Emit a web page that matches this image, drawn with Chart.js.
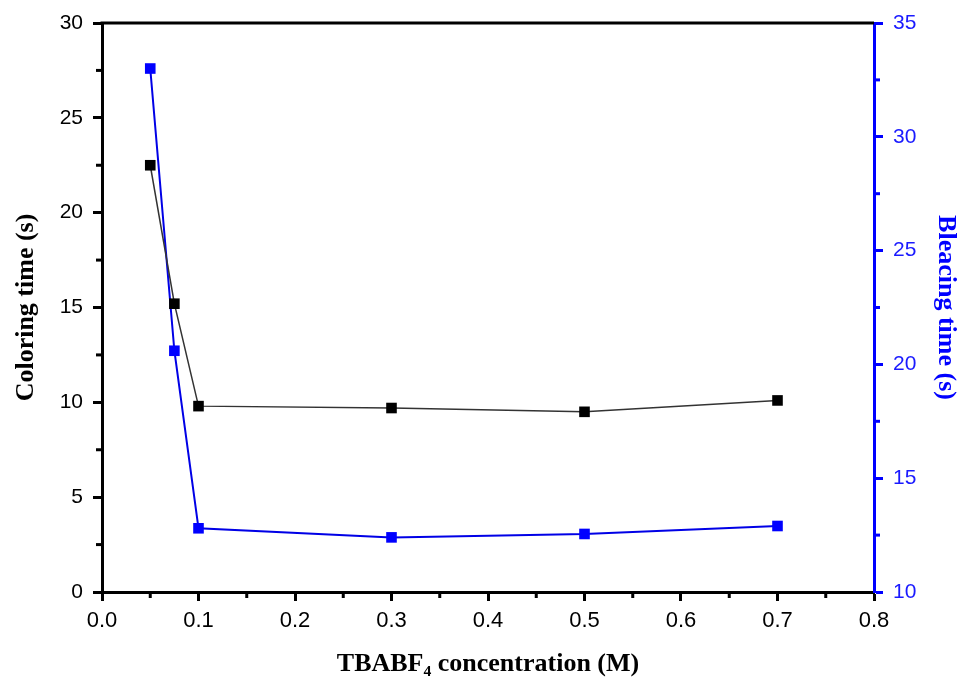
<!DOCTYPE html>
<html>
<head>
<meta charset="utf-8">
<script src="https://cdn.jsdelivr.net/npm/chart.js@4.4.1/dist/chart.umd.min.js"></script>
<style>
  html, body { margin: 0; padding: 0; background: #fff; }
  #wrap { width: 962px; height: 688px; }
</style>
</head>
<body>
<div id="wrap"><canvas id="chart" width="962" height="688"></canvas></div>
<script>
// values
let concentration = [0.05, 0.075, 0.1, 0.3, 0.5, 0.7];
let coloringTime = [22.5, 15.2, 9.8, 9.7, 9.5, 10.1];
let bleachingTime = [33.0, 20.6, 12.8, 12.4, 12.55, 12.9];

let blue = '#0000ff';

function toPoints(xs, ys) {
    return xs.map(function (x, i) { return { x: x, y: ys[i] }; });
}

// shorter minor ticks half way between the major ones, plus the top frame line
let frame = {
    id: 'frame',
    afterDraw: function (chart) {
        let ctx = chart.ctx;
        let area = chart.chartArea;
        ctx.save();
        ctx.lineWidth = 3;
        ctx.strokeStyle = '#000';
        ctx.beginPath();
        ctx.moveTo(area.left - 1.5, area.top);
        ctx.lineTo(area.right, area.top);
        ctx.stroke();

        let minor = function (scale, step, color) {
            ctx.strokeStyle = color;
            for (let v = scale.min + step / 2; v < scale.max; v += step) {
                let p = scale.getPixelForValue(v);
                ctx.beginPath();
                if (scale.axis === 'x') {
                    ctx.moveTo(p, area.bottom);
                    ctx.lineTo(p, area.bottom + 6);
                } else if (scale.position === 'left') {
                    ctx.moveTo(area.left, p);
                    ctx.lineTo(area.left - 6, p);
                } else {
                    ctx.moveTo(area.right, p);
                    ctx.lineTo(area.right + 6, p);
                }
                ctx.stroke();
            }
        };
        minor(chart.scales.x, 0.1, '#000');
        minor(chart.scales.y, 5, '#000');
        minor(chart.scales.y1, 5, blue);
        ctx.restore();
    }
};

let chart = new Chart(document.getElementById('chart'), {
    type: 'scatter',
    data: {
        datasets: [{
            label: 'Coloring time',
            data: toPoints(concentration, coloringTime),
            showLine: true,
            borderColor: '#333',
            borderWidth: 1.5,
            backgroundColor: '#000',
            pointStyle: 'rect',
            pointRadius: 7.5,
            pointBorderWidth: 0,
            yAxisID: 'y'
        }, {
            label: 'Bleacing time',
            data: toPoints(concentration, bleachingTime),
            showLine: true,
            borderColor: '#0000e6',
            borderWidth: 2,
            backgroundColor: blue,
            pointStyle: 'rect',
            pointRadius: 7.5,
            pointBorderWidth: 0,
            yAxisID: 'y1'
        }]
    },
    plugins: [frame],
    options: {
        responsive: false,
        animation: false,
        layout: { padding: { top: 23, left: 0, right: 0, bottom: 0 } },
        plugins: {
            legend: { display: false },
            tooltip: { enabled: false }
        },
        scales: {
            x: {
                type: 'linear',
                min: 0,
                max: 0.8,
                afterFit: function (s) { s.height = 96; },
                border: { color: '#000', width: 3 },
                grid: { drawOnChartArea: false, color: '#000', tickLength: 9, tickWidth: 3 },
                ticks: {
                    stepSize: 0.1,
                    color: '#000',
                    padding: 7,
                    font: { family: '"Liberation Sans", Arial', size: 22 },
                    callback: function (v) { return v.toFixed(1); }
                },
                title: {
                    display: true,
                    text: 'TBABF\u2084 concentration (M)',
                    color: '#000',
                    padding: { top: 0, bottom: 8 },
                    font: { family: '"Liberation Serif", "Times New Roman", serif', size: 26, weight: 'bold' }
                }
            },
            y: {
                position: 'left',
                min: 0,
                max: 30,
                afterFit: function (s) { s.width = 102; },
                border: { color: '#000', width: 3 },
                grid: { drawOnChartArea: false, color: '#000', tickLength: 9, tickWidth: 3 },
                ticks: {
                    stepSize: 5,
                    color: '#000',
                    padding: 10,
                    font: { family: '"Liberation Sans", Arial', size: 21 }
                },
                title: {
                    display: true,
                    text: 'Coloring time (s)',
                    color: '#000',
                    padding: { top: 11, bottom: 0 },
                    font: { family: '"Liberation Serif", "Times New Roman", serif', size: 26, weight: 'bold' }
                }
            },
            y1: {
                position: 'right',
                min: 10,
                max: 35,
                afterFit: function (s) { s.width = 88; },
                border: { color: blue, width: 3 },
                grid: { drawOnChartArea: false, color: blue, tickLength: 9, tickWidth: 3 },
                ticks: {
                    stepSize: 5,
                    color: '#1a1aff',
                    padding: 10,
                    font: { family: '"Liberation Sans", Arial', size: 21 }
                },
                title: {
                    display: true,
                    text: 'Bleacing time (s)',
                    color: blue,
                    padding: { top: 1, bottom: 0 },
                    font: { family: '"Liberation Serif", "Times New Roman", serif', size: 26, weight: 'bold' }
                }
            }
        }
    }
});
</script>
</body>
</html>
